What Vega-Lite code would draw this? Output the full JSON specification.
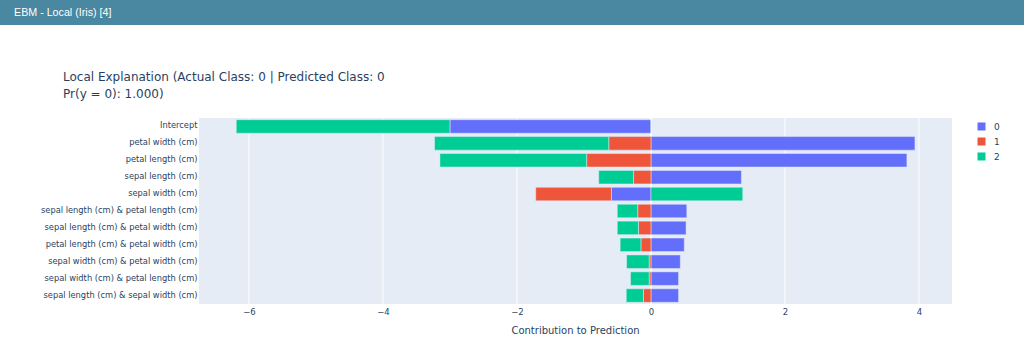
{
  "$schema": "https://vega.github.io/schema/vega-lite/v6.json",
  "background": "white",
  "padding": 0,
  "spacing": 46,
  "config": {
    "view": {"stroke": null},
    "axisX": {
      "grid": false,
      "ticks": false,
      "domain": false,
      "labelPadding": 3,
      "labelFont": "DejaVu Sans",
      "labelFontSize": 8.5,
      "labelColor": "#2a3f5f",
      "titleFont": "DejaVu Sans",
      "titleFontSize": 10,
      "titleFontWeight": "normal",
      "titleColor": "#2a3f5f",
      "titlePadding": 10,
      "titleX": 575
    }
  },
  "resolve": {"legend": {"color": "independent"}, "scale": {"x": "independent", "y": "independent"}},
  "vconcat": [
    {
      "width": 1024,
      "height": 25,
      "view": {"fill": "#4a87a0", "stroke": null},
      "data": {"values": [{"label": "EBM - Local (Iris) [4]", "pos": 0}]},
      "mark": {"type": "text", "align": "left", "baseline": "middle", "dx": 14, "color": "white", "font": "Liberation Sans", "fontSize": 10.7},
      "encoding": {
        "x": {"field": "pos", "type": "quantitative", "scale": {"domain": [0, 1]}, "axis": null},
        "text": {"field": "label"}
      }
    },
    {
      "width": 952,
      "height": 186,
      "title": {
        "text": ["Local Explanation (Actual Class: 0 | Predicted Class: 0", "Pr(y = 0): 1.000)"],
        "anchor": "start",
        "frame": "group",
        "dx": 63,
        "offset": 16,
        "font": "DejaVu Sans",
        "fontSize": 12,
        "fontWeight": "normal",
        "lineHeight": 17,
        "color": "#2a3f5f"
      },
      "layer": [
        {
          "data": {"values": [{"lo": -6.746, "hi": 4.493}]},
          "mark": {"type": "rect", "color": "#E5ECF6"},
          "encoding": {
            "x": {"field": "lo", "type": "quantitative", "title": "Contribution to Prediction", "axis": {"values": [-6, -4, -2, 0, 2, 4]}},
            "x2": {"field": "hi"}
          }
        },
        {
          "data": {"values": [{"g": -6}, {"g": -4}, {"g": -2}, {"g": 0}, {"g": 2}, {"g": 4}]},
          "mark": {"type": "rule", "color": "white"},
          "encoding": {
            "x": {"field": "g", "type": "quantitative", "title": "Contribution to Prediction", "axis": {"values": [-6, -4, -2, 0, 2, 4]}},
            "strokeWidth": {"condition": {"test": "datum.g === 0", "value": 2}, "value": 1}
          }
        },
        {
          "data": {"values": [
            {"feature": "Intercept", "cls": "0", "value": -3.0},
            {"feature": "Intercept", "cls": "1", "value": 0.0},
            {"feature": "Intercept", "cls": "2", "value": -3.19},
            {"feature": "petal width (cm)", "cls": "0", "value": 3.94},
            {"feature": "petal width (cm)", "cls": "1", "value": -0.63},
            {"feature": "petal width (cm)", "cls": "2", "value": -2.6},
            {"feature": "petal length (cm)", "cls": "0", "value": 3.82},
            {"feature": "petal length (cm)", "cls": "1", "value": -0.96},
            {"feature": "petal length (cm)", "cls": "2", "value": -2.19},
            {"feature": "sepal length (cm)", "cls": "0", "value": 1.35},
            {"feature": "sepal length (cm)", "cls": "1", "value": -0.26},
            {"feature": "sepal length (cm)", "cls": "2", "value": -0.52},
            {"feature": "sepal width (cm)", "cls": "0", "value": -0.59},
            {"feature": "sepal width (cm)", "cls": "1", "value": -1.13},
            {"feature": "sepal width (cm)", "cls": "2", "value": 1.37},
            {"feature": "sepal length (cm) & petal length (cm)", "cls": "0", "value": 0.535},
            {"feature": "sepal length (cm) & petal length (cm)", "cls": "1", "value": -0.198},
            {"feature": "sepal length (cm) & petal length (cm)", "cls": "2", "value": -0.305},
            {"feature": "sepal length (cm) & petal width (cm)", "cls": "0", "value": 0.524},
            {"feature": "sepal length (cm) & petal width (cm)", "cls": "1", "value": -0.187},
            {"feature": "sepal length (cm) & petal width (cm)", "cls": "2", "value": -0.316},
            {"feature": "petal length (cm) & petal width (cm)", "cls": "0", "value": 0.497},
            {"feature": "petal length (cm) & petal width (cm)", "cls": "1", "value": -0.15},
            {"feature": "petal length (cm) & petal width (cm)", "cls": "2", "value": -0.31},
            {"feature": "sepal width (cm) & petal width (cm)", "cls": "0", "value": 0.438},
            {"feature": "sepal width (cm) & petal width (cm)", "cls": "1", "value": -0.027},
            {"feature": "sepal width (cm) & petal width (cm)", "cls": "2", "value": -0.337},
            {"feature": "sepal width (cm) & petal length (cm)", "cls": "0", "value": 0.412},
            {"feature": "sepal width (cm) & petal length (cm)", "cls": "1", "value": -0.027},
            {"feature": "sepal width (cm) & petal length (cm)", "cls": "2", "value": -0.278},
            {"feature": "sepal length (cm) & sepal width (cm)", "cls": "0", "value": 0.412},
            {"feature": "sepal length (cm) & sepal width (cm)", "cls": "1", "value": -0.112},
            {"feature": "sepal length (cm) & sepal width (cm)", "cls": "2", "value": -0.257}
          ]},
          "mark": {"type": "bar", "stroke": "#E5ECF6", "strokeWidth": 0.5},
          "encoding": {
            "y": {
              "field": "feature",
              "type": "nominal",
              "sort": ["Intercept", "petal width (cm)", "petal length (cm)", "sepal length (cm)", "sepal width (cm)", "sepal length (cm) & petal length (cm)", "sepal length (cm) & petal width (cm)", "petal length (cm) & petal width (cm)", "sepal width (cm) & petal width (cm)", "sepal width (cm) & petal length (cm)", "sepal length (cm) & sepal width (cm)"],
              "scale": {"paddingInner": 0.2, "paddingOuter": 0.1},
              "axis": {"title": null, "ticks": false, "domain": false, "offset": -199, "labelPadding": 2, "labelFont": "DejaVu Sans", "labelFontSize": 8.3, "labelColor": "#2a3f5f", "labelLimit": 300}
            },
            "x": {
              "field": "value",
              "type": "quantitative",
              "stack": "zero",
              "title": "Contribution to Prediction",
              "scale": {"domain": [-9.716, 4.493], "nice": false, "zero": false},
              "axis": {"values": [-6, -4, -2, 0, 2, 4]}
            },
            "color": {
              "field": "cls",
              "type": "nominal",
              "scale": {"domain": ["0", "1", "2"], "range": ["#636efa", "#EF553B", "#00cc96"]},
              "legend": {"title": null, "symbolType": "square", "symbolSize": 64, "symbolStrokeWidth": 0, "offset": 21, "padding": 4, "labelFont": "DejaVu Sans", "labelFontSize": 9, "labelColor": "#2a3f5f", "rowPadding": 5, "labelOffset": 8}
            },
            "order": {"field": "cls", "type": "ordinal"}
          }
        }
      ]
    }
  ]
}
